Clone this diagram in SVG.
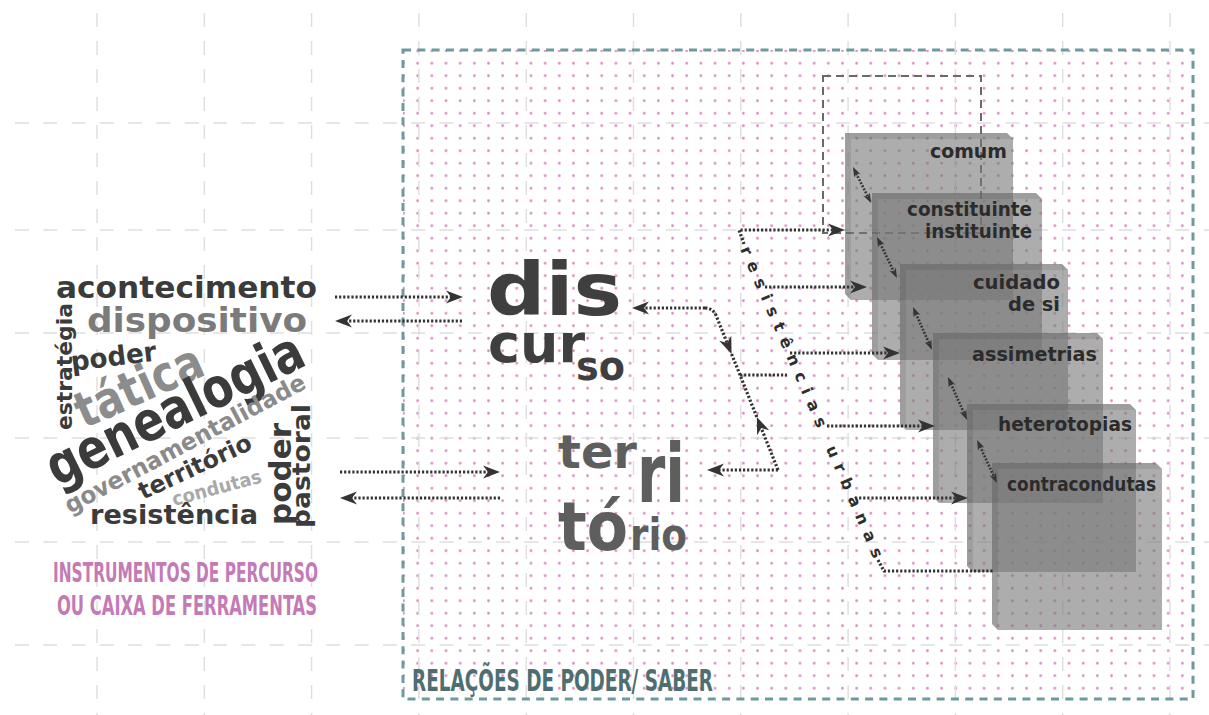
<svg xmlns="http://www.w3.org/2000/svg" width="1209" height="715" viewBox="0 0 1209 715">
<defs>
<style>
.grid{stroke:#dedede;stroke-width:1.4;fill:none}
.w{font-family:"DejaVu Sans","Liberation Sans",sans-serif;font-weight:bold;fill:#3b3b3b}
.big{font-family:"DejaVu Sans","Liberation Sans",sans-serif;font-weight:bold}
.cond{font-family:"DejaVu Sans Condensed","DejaVu Sans","Liberation Sans",sans-serif;font-stretch:condensed;font-weight:bold}
.lbl{font-family:"DejaVu Sans","Liberation Sans",sans-serif;font-weight:bold;font-size:20px;fill:#2b2b2b}
.dot{fill:none;stroke:#333;stroke-width:3.2;stroke-dasharray:2.2 1.9}
.dots{fill:none;stroke:#333;stroke-width:2.6;stroke-dasharray:1.8 1.6}
.box{fill:#777;fill-opacity:0.6}
.edge{fill:#333;fill-opacity:0.12}
</style>
<pattern id="pd" x="410.6" y="57" width="14.16" height="12.5" patternUnits="userSpaceOnUse">
<circle cx="7.08" cy="6.25" r="1.4" fill="#d98cc0"/>
</pattern>
<marker id="ah" viewBox="-6 -7 19 14" refX="0" refY="0" markerWidth="19" markerHeight="14" markerUnits="userSpaceOnUse" orient="auto">
<path d="M12,0 L-5,-6.5 L0,0 L-5,6.5 Z" fill="#333"/>
</marker>
<marker id="sa" viewBox="-4 -4 12 8" refX="0" refY="0" markerWidth="12" markerHeight="8" markerUnits="userSpaceOnUse" orient="auto-start-reverse">
<path d="M7,0 L-3,-3.6 L0,0 L-3,3.6 Z" fill="#333"/>
</marker>
<path id="rpath" d="M739.9,249.3 L882.5,579.8"/>
</defs>
<rect width="1209" height="715" fill="#fff"/>
<g id="frame">
<rect x="403" y="50" width="790" height="649" fill="url(#pd)"/>
</g>
<g id="grid" class="grid">
<path stroke-dasharray="14 14" d="M97,13V715 M204.3,13V715 M311.6,13V715 M418.9,13V715 M526.2,13V715 M633.5,13V715 M740.8,13V715 M848.1,13V715 M955.4,13V715 M1062.7,13V715 M1170,13V715"/>
<path stroke-dasharray="14 14.3" d="M15,123H1209 M15,230H1209 M15,333H1209 M15,438H1209 M15,542H1209 M15,645H1209"/>
</g>
<g id="frame-border">
<rect x="403" y="50" width="790" height="649" fill="none" stroke="#6e9a9e" stroke-width="3" stroke-dasharray="8 6.3"/>
<text class="cond" x="412" y="691" font-size="30" fill="#4e6e72" textLength="301" lengthAdjust="spacingAndGlyphs">RELAÇÕES DE PODER/ SABER</text>
</g>
<g id="instrumentos">
<text class="w" x="56" y="298" font-size="31" textLength="261" lengthAdjust="spacingAndGlyphs">acontecimento</text>
<text class="w" x="87" y="332" font-size="34" style="fill:#7b7b7b" textLength="220" lengthAdjust="spacingAndGlyphs">dispositivo</text>
<text class="w" transform="translate(72,430) rotate(-90)" font-size="22" textLength="127" lengthAdjust="spacingAndGlyphs">estratégia</text>
<text class="w" transform="translate(72,371) rotate(-7)" font-size="27" textLength="86" lengthAdjust="spacingAndGlyphs">poder</text>
<text class="w" transform="translate(84,429) rotate(-24)" font-size="50" style="fill:#8c8c8c" textLength="135" lengthAdjust="spacingAndGlyphs">tática</text>
<text class="w" transform="translate(57,487) rotate(-26)" font-size="55" textLength="280" lengthAdjust="spacingAndGlyphs">genealogia</text>
<text class="w" transform="translate(70,514) rotate(-28)" font-size="24" style="fill:#8a8a8a" textLength="269" lengthAdjust="spacingAndGlyphs">governamentalidade</text>
<text class="w" transform="translate(143,500) rotate(-25)" font-size="24" textLength="122" lengthAdjust="spacingAndGlyphs">território</text>
<text class="w" transform="translate(174,506) rotate(-15)" font-size="19" style="fill:#a9a9a9" textLength="92" lengthAdjust="spacingAndGlyphs">condutas</text>
<text class="w" x="90" y="524" font-size="27" textLength="168" lengthAdjust="spacingAndGlyphs">resistência</text>
<text class="w" transform="translate(291,525) rotate(-90)" font-size="31" textLength="102" lengthAdjust="spacingAndGlyphs">poder</text>
<text class="w" transform="translate(310,528) rotate(-90)" font-size="24" textLength="124" lengthAdjust="spacingAndGlyphs">pastoral</text>
<text class="cond" x="53" y="582" font-size="26" fill="#c47ab5" textLength="265" lengthAdjust="spacingAndGlyphs">INSTRUMENTOS DE PERCURSO</text>
<text class="cond" x="57" y="615" font-size="26" fill="#c47ab5" textLength="260" lengthAdjust="spacingAndGlyphs">OU CAIXA DE FERRAMENTAS</text>
</g>
<g id="discurso" class="big" fill="#3f3f3f">
<text x="487" y="315" font-size="73" textLength="135" lengthAdjust="spacingAndGlyphs">dis</text>
<text x="488" y="362" font-size="53" textLength="97" lengthAdjust="spacingAndGlyphs">cur</text>
<text x="576" y="380" font-size="40" textLength="49" lengthAdjust="spacingAndGlyphs">so</text>
</g>
<g id="territorio" class="big" fill="#5e5e5e">
<text x="558" y="468" font-size="47" textLength="79" lengthAdjust="spacingAndGlyphs">ter</text>
<text x="637" y="502" font-size="82" textLength="48" lengthAdjust="spacingAndGlyphs">ri</text>
<text x="558" y="550" font-size="68" textLength="70" lengthAdjust="spacingAndGlyphs">tó</text>
<text x="630" y="550" font-size="45" textLength="57" lengthAdjust="spacingAndGlyphs">rio</text>
</g>
<rect id="comum-frame" x="823" y="76" width="158" height="157" fill="none" stroke="#6a6a6a" stroke-width="2" stroke-dasharray="8 5"/>
<g id="comum">
<path class="box" d="M845,133H1007L1013,139V300H851L845,294Z"/>
<path class="edge" d="M845,133H1007L1013,139H851ZM845,133L851,139V300L845,294Z"/>
<text class="lbl" x="930" y="158" textLength="77" lengthAdjust="spacingAndGlyphs">comum</text>
</g>
<g id="constituinte">
<path class="box" d="M872,193H1036L1042,199V360H878L872,354Z"/>
<path class="edge" d="M872,193H1036L1042,199H878ZM872,193L878,199V360L872,354Z"/>
<text class="lbl" x="907" y="216" textLength="125" lengthAdjust="spacingAndGlyphs">constituinte</text>
<text class="lbl" x="925" y="238" textLength="107" lengthAdjust="spacingAndGlyphs">instituinte</text>
</g>
<g id="cuidado">
<path class="box" d="M900,264H1062L1068,270V430H906L900,424Z"/>
<path class="edge" d="M900,264H1062L1068,270H906ZM900,264L906,270V430L900,424Z"/>
<text class="lbl" x="973" y="289" textLength="87" lengthAdjust="spacingAndGlyphs">cuidado</text>
<text class="lbl" x="1008" y="311" textLength="52" lengthAdjust="spacingAndGlyphs">de si</text>
</g>
<g id="assimetrias">
<path class="box" d="M933,333H1097L1103,339V503H939L933,497Z"/>
<path class="edge" d="M933,333H1097L1103,339H939ZM933,333L939,339V503L933,497Z"/>
<text class="lbl" x="972" y="361" textLength="125" lengthAdjust="spacingAndGlyphs">assimetrias</text>
</g>
<g id="heterotopias">
<path class="box" d="M967,404H1130L1136,410V572H973L967,566Z"/>
<path class="edge" d="M967,404H1130L1136,410H973ZM967,404L973,410V572L967,566Z"/>
<text class="lbl" x="998" y="431" textLength="134" lengthAdjust="spacingAndGlyphs">heterotopias</text>
</g>
<g id="contracondutas">
<path class="box" d="M992,463H1156L1162,469V630H998L992,624Z"/>
<path class="edge" d="M992,463H1156L1162,469H998ZM992,463L998,469V630L992,624Z"/>
<text class="lbl" x="1007" y="491" textLength="149" lengthAdjust="spacingAndGlyphs">contracondutas</text>
</g>
<g id="connectors">
<path class="dot" marker-end="url(#ah)" d="M335,297H451"/>
<path class="dot" marker-end="url(#ah)" d="M462,321H347"/>
<path class="dot" marker-end="url(#ah)" d="M340,472H488"/>
<path class="dot" marker-end="url(#ah)" d="M500,498H352"/>
<path class="dot" marker-end="url(#ah)" d="M705,308H644"/>
<path class="dot" marker-end="url(#ah)" d="M705,308Q713,308 716.3,316L727.1,342.9"/>
<path class="dot" d="M731.6,354L740,375"/>
<path class="dot" marker-end="url(#ah)" d="M778,470L761.3,428.1"/>
<path class="dot" d="M756.8,417L740,375"/>
<path class="dot" marker-end="url(#ah)" d="M778,470H719"/>
<path class="dot" d="M740,375H787"/>
<path class="dot" marker-end="url(#ah)" d="M744,244L739,230H833"/>
<path class="dot" marker-end="url(#ah)" d="M765,287H855"/>
<path class="dot" marker-end="url(#ah)" d="M790,353H888"/>
<path class="dot" marker-end="url(#ah)" d="M827,426H923"/>
<path class="dot" marker-end="url(#ah)" d="M855,498H956"/>
<path class="dot" d="M878,560L884,571H993"/>
<path class="dots" marker-start="url(#sa)" marker-end="url(#sa)" d="M856.1,173.3L867.9,196.7"/>
<path class="dots" marker-start="url(#sa)" marker-end="url(#sa)" d="M880.1,243.3L893.9,271.7"/>
<path class="dots" marker-start="url(#sa)" marker-end="url(#sa)" d="M915.8,313.4L929.2,343.6"/>
<path class="dots" marker-start="url(#sa)" marker-end="url(#sa)" d="M950.8,383.4L964.2,413.6"/>
<path class="dots" marker-start="url(#sa)" marker-end="url(#sa)" d="M980,446.3L994,476.7"/>
<text class="big" font-size="16" fill="#2d2d2d" letter-spacing="7.9"><textPath href="#rpath">resistências urbanas</textPath></text>
</g>
</svg>
